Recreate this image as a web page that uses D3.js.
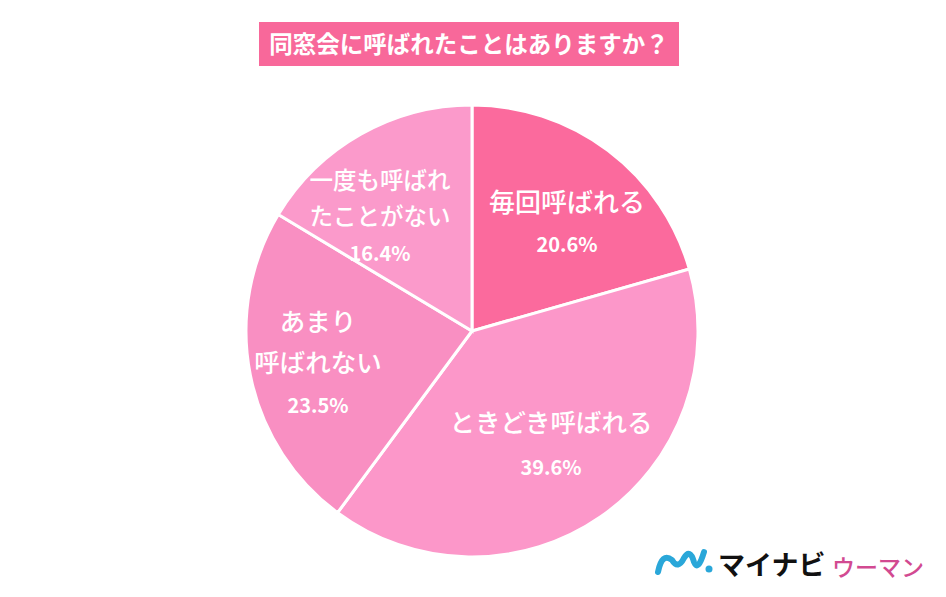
<!DOCTYPE html><html><head><meta charset="utf-8">
<script src="https://cdn.jsdelivr.net/npm/d3@7"></script>
<style>body{margin:0;background:#fff}</style></head><body>
<svg id="c" width="946" height="597"></svg>
<script>
const title = "同窓会に呼ばれたことはありますか？";
const categories = ["毎回呼ばれる","ときどき呼ばれる","あまり呼ばれない","一度も呼ばれたことがない"];
const values = [20.6, 39.6, 23.5, 16.4];
const labelLines = [["毎回呼ばれる"],["ときどき呼ばれる"],["あまり","呼ばれない"],["一度も呼ばれ","たことがない"]];
const colors = ["#fb6a9d","#fc97c9","#f98fc2","#fb9acb"];

const svg = d3.select("#c");
const F = "'Noto Sans CJK JP', sans-serif";
svg.append("rect").attr("x",259).attr("y",22).attr("width",420).attr("height",44).attr("fill","#f8689a");
svg.append("text").attr("x",469).attr("y",53).attr("text-anchor","middle").attr("fill","#fff")
  .attr("font-family",F).attr("font-weight","bold").attr("font-size",23.5).text(title);

const cx=472, cy=331, R=226;
const pie = d3.pie().sort(null).value(d=>d)(values);
const arc = d3.arc().innerRadius(0).outerRadius(R);
const g = svg.append("g").attr("transform",`translate(${cx},${cy})`);
g.selectAll("path").data(pie).join("path").attr("d",arc)
  .attr("fill",(d,i)=>colors[i]).attr("stroke","#fff").attr("stroke-width",3);

const pos = [[567,203],[551,423],[318,322],[380,180]];
const lh = [40,43,41,36];
const fs = [26,25.5,25.5,23.5];
pie.forEach((d,i)=>{
  const lines = labelLines[i].concat([values[i].toFixed(1)+"%"]);
  lines.forEach((t,k)=>{
    svg.append("text").attr("x",pos[i][0]).attr("y",pos[i][1]+k*lh[i]+9)
      .attr("text-anchor","middle").attr("fill","#fff").attr("font-family",F)
      .attr("font-weight", k===lines.length-1?"bold":"500")
      .attr("font-size", k===lines.length-1?20:fs[i]).text(t);
  });
});

// logo
const lg = svg.append("g");
lg.append("path").attr("d","M658,572 Q662,552 672,560 Q678,570 684,558 Q690,548 694,562 Q698,572 704,552")
  .attr("fill","none").attr("stroke","#2aa7d9").attr("stroke-width",6).attr("stroke-linecap","round");
lg.append("circle").attr("cx",709).attr("cy",569).attr("r",3.5).attr("fill","#2aa7d9");
lg.append("text").attr("x",718).attr("y",575).attr("font-family",F).attr("font-weight","bold")
  .attr("font-size",27).attr("fill","#111").text("マイナビ");
lg.append("text").attr("x",832).attr("y",576).attr("font-family",F).attr("font-weight","500")
  .attr("font-size",23).attr("fill","#d24a91").text("ウーマン");
</script></body></html>
